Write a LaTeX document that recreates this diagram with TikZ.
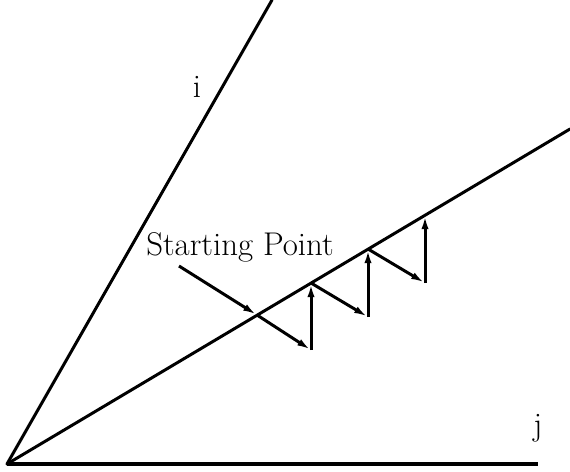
\documentclass[tikz,border=0pt]{standalone}
\usetikzlibrary{arrows.meta, positioning}
\tikzset{
  ray line/.style={line width=1.7pt, line cap=round},
  base line/.style={line width=2.3pt},
  step arrow/.style={-{Latex[length=8pt, width=4pt]}, line width=1.7pt},
  axis label/.style={anchor=base, font=\fontsize{18.7}{22}\selectfont, inner sep=0pt},
}

\begin{document}
\begin{tikzpicture}[x=0.02cm, y=0.02cm]

  \useasboundingbox (-7,-7) rectangle (563,464);

  % ── rays from the origin ─────────────────────────────────────────────────
  \coordinate (origin) at (0,0);
  \coordinate (iend)   at (265,464);
  \coordinate (jend)   at (531,0);
  \coordinate (mend)   at (563,335);

  \draw[ray line]  (origin) -- (iend);
  \draw[ray line]  (origin) -- (mend);
  \draw[base line] (origin) -- (jend);

  \node[axis label] (ilabel) at (190,367) {i};
  \node[axis label] (jlabel) at (531,29)  {j};

  % ── zig-zag search steps ─────────────────────────────────────────────────
  \coordinate (tail) at (172,198);
  \coordinate (s0)   at (250,149);
  \coordinate (d1)   at (304,114);
  \coordinate (p1)   at (304,181);
  \coordinate (d2)   at (361,147);
  \coordinate (p2)   at (361,215);
  \coordinate (d3)   at (418,181);
  \coordinate (p3)   at (418,249);

  \node[axis label] (startlabel) at (233,209) {Starting Point};

  \draw[step arrow] (tail) -- (s0);
  \draw[step arrow] (s0) -- (d1);
  \draw[step arrow] (d1) -- (p1);
  \draw[step arrow] (p1) -- (d2);
  \draw[step arrow] (d2) -- (p2);
  \draw[step arrow] (p2) -- (d3);
  \draw[step arrow] (d3) -- (p3);

\end{tikzpicture}
\end{document}
